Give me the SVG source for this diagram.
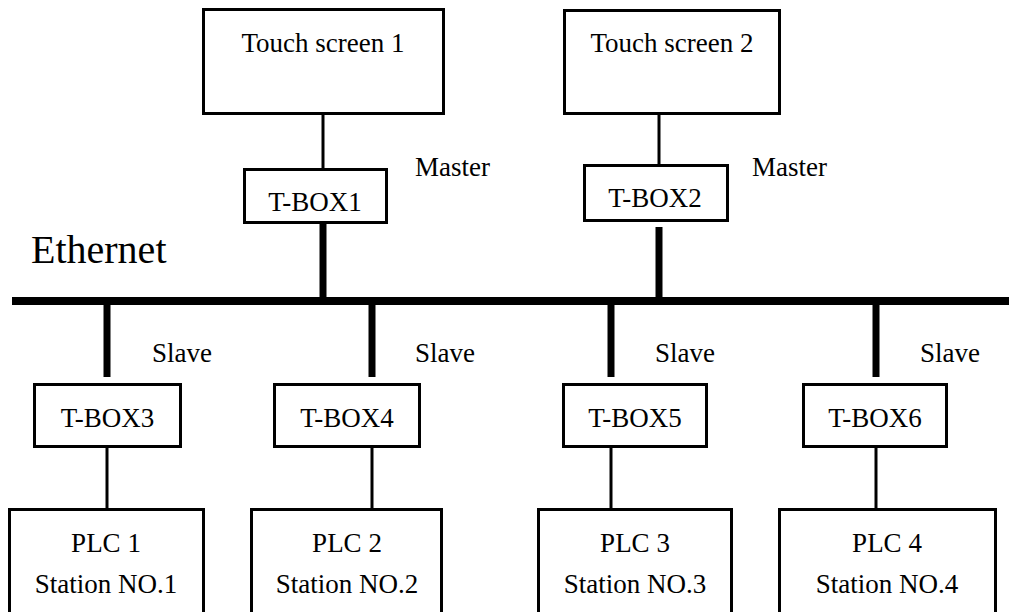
<svg xmlns="http://www.w3.org/2000/svg" width="1009" height="612" viewBox="0 0 1009 612">
<style>
.box{fill:#fff;stroke:#000;stroke-width:3}
.thin{stroke:#000;stroke-width:3;fill:none}
.thick{stroke:#000;stroke-width:7;fill:none}
.bus{stroke:#000;stroke-width:8;fill:none}
text{font-family:"Liberation Serif","Times New Roman",serif;font-size:27px;fill:#000}
.c{text-anchor:middle}
</style>
<rect width="1009" height="612" fill="#fff"/>
<g id="connectors">
<line class="thin" x1="323" y1="115" x2="323" y2="169"/>
<line class="thin" x1="659" y1="115" x2="659" y2="165"/>
<line class="thick" x1="323" y1="223" x2="323" y2="298"/>
<line class="thick" x1="659" y1="227" x2="659" y2="298"/>
<line class="bus" x1="12" y1="301" x2="1009" y2="301"/>
<line class="thick" x1="107" y1="304" x2="107" y2="377"/>
<line class="thick" x1="372" y1="304" x2="372" y2="377"/>
<line class="thick" x1="611" y1="304" x2="611" y2="377"/>
<line class="thick" x1="876" y1="304" x2="876" y2="377"/>
<line class="thin" x1="107" y1="447" x2="107" y2="510"/>
<line class="thin" x1="372" y1="447" x2="372" y2="510"/>
<line class="thin" x1="611" y1="447" x2="611" y2="510"/>
<line class="thin" x1="876" y1="447" x2="876" y2="510"/>
</g>
<g id="ethernet"><text x="31" y="263" style="font-size:40px">Ethernet</text></g>
<g id="ts1"><rect class="box" x="203.5" y="9.5" width="240" height="104"/><text class="c" x="323" y="52">Touch screen 1</text></g>
<g id="ts2"><rect class="box" x="564.5" y="10.5" width="215" height="103"/><text class="c" x="672" y="52">Touch screen 2</text></g>
<g id="tbox1"><rect class="box" x="244.5" y="169.5" width="142" height="53"/><text class="c" x="315" y="211">T-BOX1</text></g>
<g id="tbox2"><rect class="box" x="584.5" y="165.5" width="143" height="55"/><text class="c" x="655" y="207">T-BOX2</text></g>
<g id="master1"><text x="415" y="176">Master</text></g>
<g id="master2"><text x="752" y="176">Master</text></g>
<g id="slave1"><text x="152" y="362">Slave</text></g>
<g id="slave2"><text x="415" y="362">Slave</text></g>
<g id="slave3"><text x="655" y="362">Slave</text></g>
<g id="slave4"><text x="920" y="362">Slave</text></g>
<g id="tbox3"><rect class="box" x="34.5" y="384.5" width="146" height="62"/><text class="c" x="107.5" y="427">T-BOX3</text></g>
<g id="tbox4"><rect class="box" x="274.5" y="384.5" width="145" height="62"/><text class="c" x="347" y="427">T-BOX4</text></g>
<g id="tbox5"><rect class="box" x="563.5" y="384.5" width="143" height="62"/><text class="c" x="635" y="427">T-BOX5</text></g>
<g id="tbox6"><rect class="box" x="803.5" y="384.5" width="143" height="62"/><text class="c" x="875" y="427">T-BOX6</text></g>
<g id="plc1"><rect class="box" x="9.5" y="509.5" width="194" height="110"/><text class="c" x="106" y="552">PLC 1</text><text class="c" x="106" y="593">Station NO.1</text></g>
<g id="plc2"><rect class="box" x="251.5" y="509.5" width="190" height="110"/><text class="c" x="347" y="552">PLC 2</text><text class="c" x="347" y="593">Station NO.2</text></g>
<g id="plc3"><rect class="box" x="538.5" y="509.5" width="193" height="110"/><text class="c" x="635" y="552">PLC 3</text><text class="c" x="635" y="593">Station NO.3</text></g>
<g id="plc4"><rect class="box" x="779.5" y="509.5" width="216" height="110"/><text class="c" x="887" y="552">PLC 4</text><text class="c" x="887" y="593">Station NO.4</text></g>
</svg>
